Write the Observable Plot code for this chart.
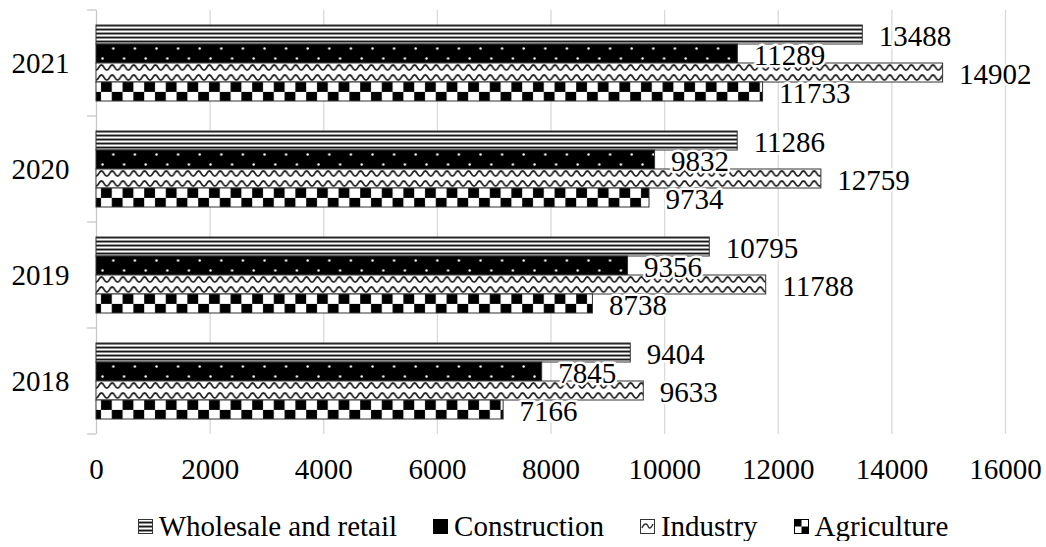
<!DOCTYPE html>
<html>
<head>
<meta charset="utf-8">
<script src="https://cdn.jsdelivr.net/npm/d3@7"></script>
<script src="https://cdn.jsdelivr.net/npm/@observablehq/plot@0.6"></script>
<style>
  body { margin: 0; background: #fff; font-family: "Liberation Serif", "Times New Roman", serif; }
  #chart svg { display: block; }
  #legend { display: flex; justify-content: center; align-items: center; font-size: 29px; line-height: 30px; height: 30px; margin-top: 14px; color: #000; padding-left: 40px; }
  .item { display: flex; align-items: center; margin-right: 36px; white-space: nowrap; }
  .item:last-child { margin-right: 0; }
  .item svg { display: block; margin-right: 6px; }
</style>
</head>
<body>
<svg width="0" height="0" style="position:absolute">
  <defs>
    <pattern id="pWholesale" patternUnits="userSpaceOnUse" width="8" height="4">
      <rect width="8" height="4" fill="#fff"/>
      <rect y="0" width="8" height="1" fill="#1a1a1a"/>
      <rect y="1" width="8" height="1" fill="#8a8a8a"/>
      <rect y="3" width="8" height="1" fill="#9a9a9a"/>
    </pattern>
    <pattern id="pConstruction" patternUnits="userSpaceOnUse" width="21.6" height="20">
      <rect width="21.6" height="20" fill="#000"/>
      <circle cx="17.3" cy="4.5" r="1.2" fill="#fff"/>
      <circle cx="6.5" cy="14.5" r="1.2" fill="#fff"/>
    </pattern>
    <pattern id="pIndustry" patternUnits="userSpaceOnUse" width="10.8" height="10">
      <rect width="10.8" height="10" fill="#fff"/>
      <path d="M0,7.2 C2.7,7.2 2.7,2 5.4,2 C8.1,2 8.1,7.2 10.8,7.2" fill="none" stroke="#222" stroke-width="1.8"/>
    </pattern>
    <pattern id="pAgriculture" patternUnits="userSpaceOnUse" width="21.6" height="19.8">
      <rect width="21.6" height="19.8" fill="#fff"/>
      <rect x="5" y="0" width="10.8" height="9.9" fill="#000"/>
      <rect x="15.8" y="9.9" width="5.8" height="9.9" fill="#000"/>
      <rect x="0" y="9.9" width="5" height="9.9" fill="#000"/>
    </pattern>
  </defs>
</svg>
<div id="chart"></div>
<div id="legend"></div>
<script>
// ---- data ----
const years = ["2021", "2020", "2019", "2018"];
const series = ["Wholesale and retail", "Construction", "Industry", "Agriculture"];
const wholesale = [13488, 11286, 10795, 9404];
const construction = [11289, 9832, 9356, 7845];
const industry = [14902, 12759, 11788, 9633];
const agriculture = [11733, 9734, 8738, 7166];
const xTicks = [0, 2000, 4000, 6000, 8000, 10000, 12000, 14000, 16000];
const patternIds = ["pWholesale", "pConstruction", "pIndustry", "pAgriculture"];

const valuesBySeries = [wholesale, construction, industry, agriculture];
const rows = [];
series.forEach((s, i) => years.forEach((y, j) => rows.push({year: y, series: s, value: valuesBySeries[i][j]})));

const font = '"Liberation Serif", "Times New Roman", serif';

const chart = Plot.plot({
  width: 1046,
  height: 497,
  marginLeft: 96,
  marginRight: 41,
  marginTop: 8,
  marginBottom: 62,
  style: {fontFamily: font, fontSize: "29px", color: "#000", background: "#fff", overflow: "visible"},
  x: {domain: [0, 16000], ticks: xTicks, tickSize: 0, tickPadding: 24, tickFormat: d => String(d), label: null},
  y: {domain: series, axis: null, paddingInner: 0, paddingOuter: 0.7},
  fy: {domain: years, padding: 0, axis: "left", tickSize: 0, tickPadding: 27, label: null},
  marks: [
    Plot.ruleX(xTicks.filter(d => d > 0), {stroke: "#d9d9d9", strokeWidth: 1.3}),
    Plot.ruleX([0], {stroke: "#c8c8c8", strokeWidth: 1.3}),
    ...series.map((s, i) => Plot.barX(rows.filter(r => r.series === s), {
      fy: "year", y: "series", x: "value",
      fill: `url(#${patternIds[i]})`, stroke: "#333", strokeWidth: 1
    })),
    Plot.text(rows, {
      fy: "year", y: "series", x: "value", text: d => String(d.value),
      dx: 16, dy: 2, textAnchor: "start", fill: "#000",
      stroke: "#fff", strokeWidth: 5, paintOrder: "stroke", fontSize: 29, fontFamily: font
    })
  ]
});
document.getElementById("chart").appendChild(chart);

// band-boundary ticks on the category axis, from the library's scales
const fyS = chart.scale("fy"), yS = chart.scale("y"), xS = chart.scale("x");
const x0 = xS.apply(0);
const bounds = years.map(y => fyS.apply(y));
bounds.push(fyS.apply(years[years.length - 1]) + fyS.bandwidth);
d3.select(chart).append("g")
  .selectAll("line").data(bounds).join("line")
  .attr("x1", x0 - 9).attr("x2", x0)
  .attr("y1", d => d).attr("y2", d => d)
  .attr("stroke", "#c8c8c8").attr("stroke-width", 1.3);

// align patterns with their bars
series.forEach((s, i) => {
  const p = document.getElementById(patternIds[i]);
  p.setAttribute("x", x0);
  p.setAttribute("y", yS.apply(s));
});

// legend
const legend = d3.select("#legend");
series.forEach((s, i) => {
  const item = legend.append("div").attr("class", "item");
  const sw = item.append("svg").attr("width", 15).attr("height", 15);
  if (i === 0) {
    sw.append("rect").attr("x", 0.5).attr("y", 0.5).attr("width", 14).attr("height", 14).attr("fill", "url(#pWholesale)").attr("stroke", "#333");
  } else if (i === 1) {
    sw.append("rect").attr("x", 0.5).attr("y", 0.5).attr("width", 14).attr("height", 14).attr("fill", "#000").attr("stroke", "#000");
  } else if (i === 2) {
    sw.append("rect").attr("x", 0.5).attr("y", 0.5).attr("width", 14).attr("height", 14).attr("fill", "#fff").attr("stroke", "#333");
    sw.append("path").attr("d", "M2,9 C4,4 7,4 8,7 C9,10 11,10 13,5").attr("fill", "none").attr("stroke", "#333").attr("stroke-width", 1.4);
  } else {
    sw.append("rect").attr("x", 0.5).attr("y", 0.5).attr("width", 14).attr("height", 14).attr("fill", "#fff").attr("stroke", "#000");
    sw.append("rect").attr("x", 0.5).attr("y", 0.5).attr("width", 7).attr("height", 7).attr("fill", "#000");
    sw.append("rect").attr("x", 7.5).attr("y", 7.5).attr("width", 7).attr("height", 7).attr("fill", "#000");
  }
  item.append("span").text(s);
});
</script>
</body>
</html>
